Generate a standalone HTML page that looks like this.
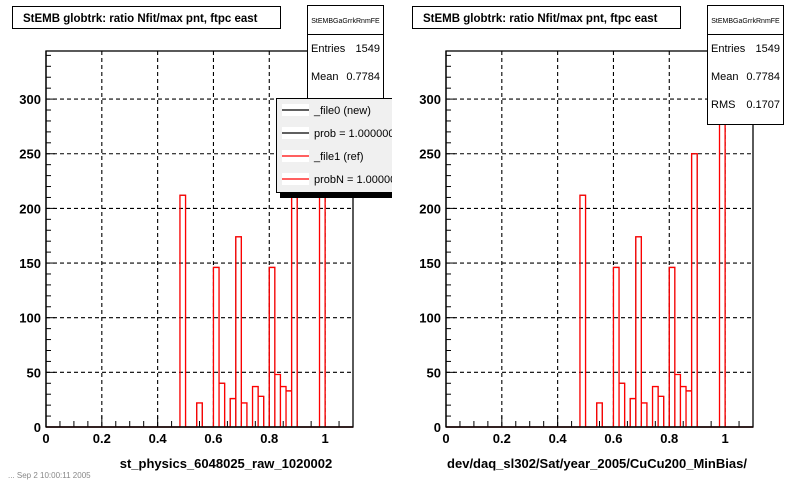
<!DOCTYPE html>
<html><head><meta charset="utf-8"><style>
body{margin:0;background:#fff;}
svg{display:block;font-family:"Liberation Sans",Arial,sans-serif;}
</style></head><body>
<svg id="c" width="800" height="480" viewBox="0 0 800 480">
<defs><clipPath id="padclip"><rect x="0" y="0" width="392" height="480"/></clipPath></defs>
</svg>
<script>
const binStarts=[0.48,0.54,0.60,0.62,0.66,0.68,0.70,0.74,0.76,0.80,0.82,0.84,0.86,0.88,0.98];
const newCounts=[212,22,146,40,26,174,22,37,28,146,48,37,33,250,328];
const refCounts=[212,22,146,40,26,174,22,37,28,146,48,37,33,250,328];
const binWidth=0.02;
const xTicks=[0,0.2,0.4,0.6,0.8,1];
const xTickLabels=["0","0.2","0.4","0.6","0.8","1"];
const yTicks=[0,50,100,150,200,250,300];
const yTickLabels=["0","50","100","150","200","250","300"];
const titleText="StEMB globtrk: ratio Nfit/max pnt, ftpc east";
const axisTitles=["st_physics_6048025_raw_1020002","dev/daq_sl302/Sat/year_2005/CuCu200_MinBias/"];
const statEntries="1549", statMean="0.7784", statRms="0.1707";

const NS="http://www.w3.org/2000/svg";
const svg=document.getElementById('c');
function mk(tag,attrs,parent,text){const e=document.createElementNS(NS,tag);for(const k in attrs)e.setAttribute(k,attrs[k]);if(text!==undefined)e.textContent=text;(parent||svg).appendChild(e);return e;}
const L=46,R=353,T=51,B=427,XMAX=1.1,YMAX=344;
function sx(v){return L+(R-L)*v/XMAX;}
function sy(v){return B-(B-T)*v/YMAX;}
function histPath(starts,counts){let d="M"+L+","+B;for(let i=0;i<starts.length;i++){const x0=sx(starts[i]),x1=sx(starts[i]+binWidth),y=sy(counts[i]);d+=" L"+x0+","+B+" L"+x0+","+y+" L"+x1+","+y+" L"+x1+","+B;}d+=" L"+R+","+B;return d;}

for(let p=0;p<2;p++){
  const g=mk('g',{transform:'translate('+(p*400)+',0)'});
  
  
  const tb=mk('g',{},g);
  
  
  mk('rect',{x:12.5,y:6.5,width:268,height:22,fill:'#fff',stroke:'#000'},tb);
  mk('text',{x:23,y:22,'font-size':'11.5','font-weight':'bold'},tb,titleText);
  mk('rect',{x:L,y:T,width:R-L,height:B-T,fill:'#fff',stroke:'#000','stroke-width':1.3},g);
  const grid=mk('g',{stroke:'#000','stroke-dasharray':'4,3','stroke-width':1.1},g);
  
  
  xTicks.forEach(v=>{if(v>0)mk('line',{x1:sx(v),x2:sx(v),y1:T,y2:B},grid);});
  yTicks.forEach(v=>{if(v>0)mk('line',{x1:L,x2:R,y1:sy(v),y2:sy(v)},grid);});
  const ticks=mk('g',{stroke:'#000','stroke-width':1},g);
  for(let v=0;v<=1.1001;v+=0.05){const maj=Math.abs(v/0.2-Math.round(v/0.2))<1e-6;mk('line',{x1:sx(v),x2:sx(v),y1:B,y2:B-(maj?11:6)},ticks);}
  for(let v=0;v<=YMAX;v+=10){const maj=v%50===0;mk('line',{x1:L,x2:L+(maj?9:5),y1:sy(v),y2:sy(v)},ticks);}
  const blk=mk('path',{d:histPath(binStarts,newCounts),fill:'none',stroke:'#000','stroke-width':1},g);
  
  
  const red=mk('path',{d:histPath(binStarts,refCounts),fill:'none',stroke:'#f00','stroke-width':1.3},g);
  
  
  mk('line',{x1:L,x2:R,y1:B,y2:B,stroke:'#000','stroke-width':1.5},g);
  mk('line',{x1:L,x2:L,y1:T,y2:B,stroke:'#000','stroke-width':1.3},g);
  xTicks.forEach((v,i)=>{const t=mk('text',{x:sx(v),y:443,'font-size':'13','font-weight':'bold','text-anchor':'middle'},g,xTickLabels[i]);
    
    });
  yTicks.forEach((v,i)=>{const t=mk('text',{x:41,y:sy(v)+5,'font-size':'13','font-weight':'bold','text-anchor':'end'},g,yTickLabels[i]);
    
    });
  const xt=mk('text',{x:p?197:226,y:468,'font-size':'13','font-weight':'bold','text-anchor':'middle'},g,axisTitles[p]);
  
  
  const sb=mk('g',{},g);
  
  
  mk('rect',{x:307.5,y:5.5,width:76,height:p?119:115,fill:'#fff',stroke:'#000'},sb);
  mk('line',{x1:307.5,x2:383.5,y1:34.5,y2:34.5,stroke:'#000'},sb);
  mk('text',{x:345.5,y:23,'font-size':'7','text-anchor':'middle'},sb,'StEMBGaGrrkRnmFE');
  mk('text',{x:311,y:52,'font-size':'11'},sb,'Entries');
  mk('text',{x:380,y:52,'font-size':'11','text-anchor':'end'},sb,statEntries);
  mk('text',{x:311,y:80,'font-size':'11'},sb,'Mean');
  mk('text',{x:380,y:80,'font-size':'11','text-anchor':'end'},sb,statMean);
  if(p){mk('text',{x:311,y:108,'font-size':'11'},sb,'RMS');
    mk('text',{x:380,y:108,'font-size':'11','text-anchor':'end'},sb,statRms);}
  if(!p){
    const lg=mk('g',{'clip-path':'url(#padclip)'},g);
    
    
    mk('rect',{x:280,y:193,width:120,height:5,fill:'#000'},lg);
    mk('rect',{x:276.5,y:98.5,width:130,height:94,fill:'#f0f0f0',stroke:'#000'},lg);
    const names=['_file0 (new)','prob = 1.000000','_file1 (ref)','probN = 1.000000'];
    const cols=['#000','#000','#f00','#f00'];
    names.forEach((n,i)=>{const y=110+i*23;
      const e=mk('g',{},lg);
      
      
      mk('rect',{x:282,y:y-6,width:27,height:12,fill:'#fff'},e);
      mk('line',{x1:282,x2:309,y1:y,y2:y,stroke:cols[i],'stroke-width':1.2},e);
      mk('text',{x:314,y:y+4,'font-size':'11'},e,n);});
    mk('text',{x:8,y:478,'font-size':'8',fill:'#888'},g,'... Sep  2 10:00:11 2005');
  }
}
</script>
</body></html>
